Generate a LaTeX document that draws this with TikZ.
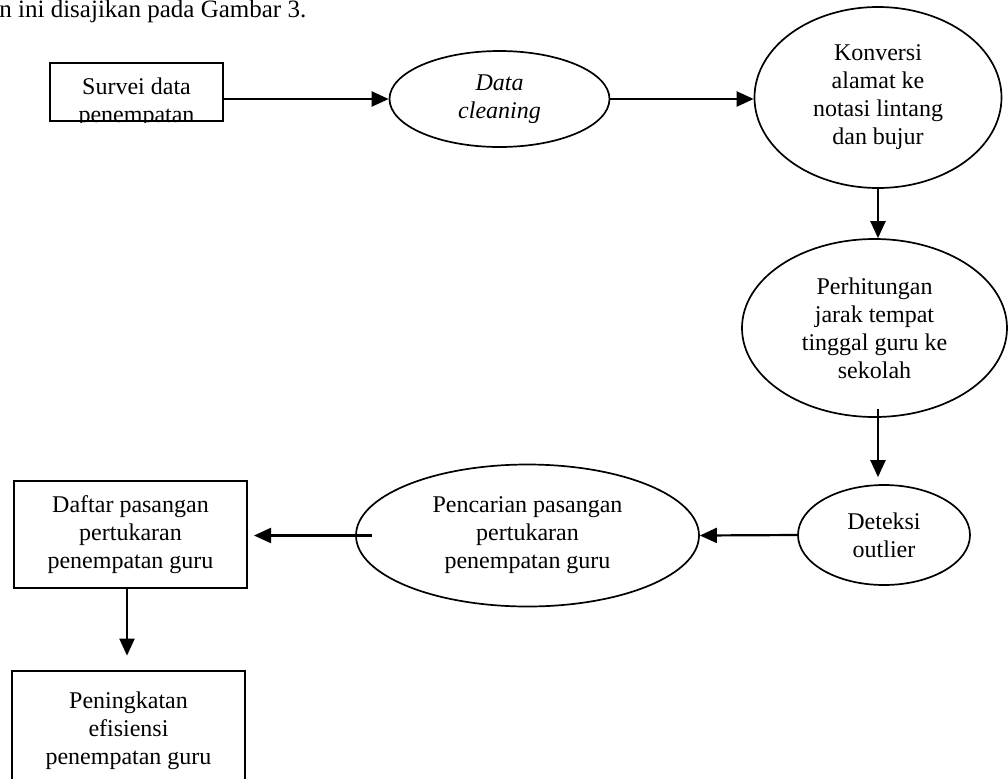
\documentclass[tikz,border=0pt]{standalone}
\usepackage{fontspec}
\setmainfont{Liberation Serif}
\usetikzlibrary{shapes.geometric,arrows.meta,calc}
\tikzset{
  x=0.5pt, y=-0.5pt,
  every node/.style={font=\fontsize{12}{14}\selectfont},
  boxnode/.style={draw, line width=1pt, rectangle, inner sep=0pt, align=center},
  ellnode/.style={draw, line width=0.85pt, ellipse, inner sep=0pt, align=center},
  arr/.style={line width=1.1pt, -{Triangle[length=8.5pt,width=7.5pt]}}
}
\begin{document}
\begin{tikzpicture}
\clip (0,0) rectangle (1008,778);
\useasboundingbox (0,0) rectangle (1008,778);

\node[anchor=base west, inner sep=0pt, font=\fontsize{12.5}{14}\selectfont] (cap) at (-1,17) {n ini disajikan pada Gambar 3.};

% Survei box (text clipped by box)
\node[boxnode, minimum width=86.5pt, minimum height=29pt] (survei) at (136.5,92) {};
\begin{scope}
  \clip (survei.south west) rectangle (survei.north east);
  \node[align=center, inner sep=0pt] (surveitext) at (136.5,103) {Survei data\\penempatan};
\end{scope}

\node[ellnode, minimum width=110pt, minimum height=48pt] (clean) at (499.5,99) {\itshape Data\\\itshape cleaning};
\node[ellnode, minimum width=123.5pt, minimum height=90.5pt] (konv) at (878,97.5) {Konversi\\alamat ke\\notasi lintang\\dan bujur};
\node[ellnode, minimum width=132.5pt, minimum height=89pt] (hitung) at (874.5,328) {Perhitungan\\jarak tempat\\tinggal guru ke\\sekolah};
\node[ellnode, minimum width=86pt, minimum height=50pt] (deteksi) at (884,535) {Deteksi\\outlier};
\node[ellnode, minimum width=171.5pt, minimum height=71pt] (cari) at (527.5,535.5) {Pencarian pasangan\\pertukaran\\penempatan guru};
\node[boxnode, minimum width=116.5pt, minimum height=53.5pt] (daftar) at (130.5,534.5) {Daftar pasangan\\pertukaran\\penempatan guru};

% Peningkatan box: bottom runs past the picture edge
\node[inner sep=0pt, minimum width=116.5pt, minimum height=60pt, align=center] (ningkat) at (128.5,731) {Peningkatan\\efisiensi\\penempatan guru};
\draw[line width=1pt] (ningkat.south west) -- (ningkat.north west) -- (ningkat.north east) -- (ningkat.south east);

% connectors
\draw[arr] (survei.east |- clean.west) -- (clean.west);
\draw[arr] (clean.east) -- (konv.west |- clean.east);
\draw[arr] (konv.south) -- (konv.south |- hitung.north);
\draw[arr] ([yshift=4.5pt]hitung.south -| konv.south) -- ([yshift=3.5pt]konv.south |- deteksi.north);
\draw[arr] (deteksi.west) -- (cari.east);
\draw[arr] ([xshift=8.5pt]cari.west) -- ([xshift=3pt]daftar.east |- cari.west);
\draw[arr] ([xshift=-1.75pt]daftar.south) -- ([xshift=-1.75pt,yshift=7.5pt]daftar.south |- ningkat.north);
\end{tikzpicture}
\end{document}
